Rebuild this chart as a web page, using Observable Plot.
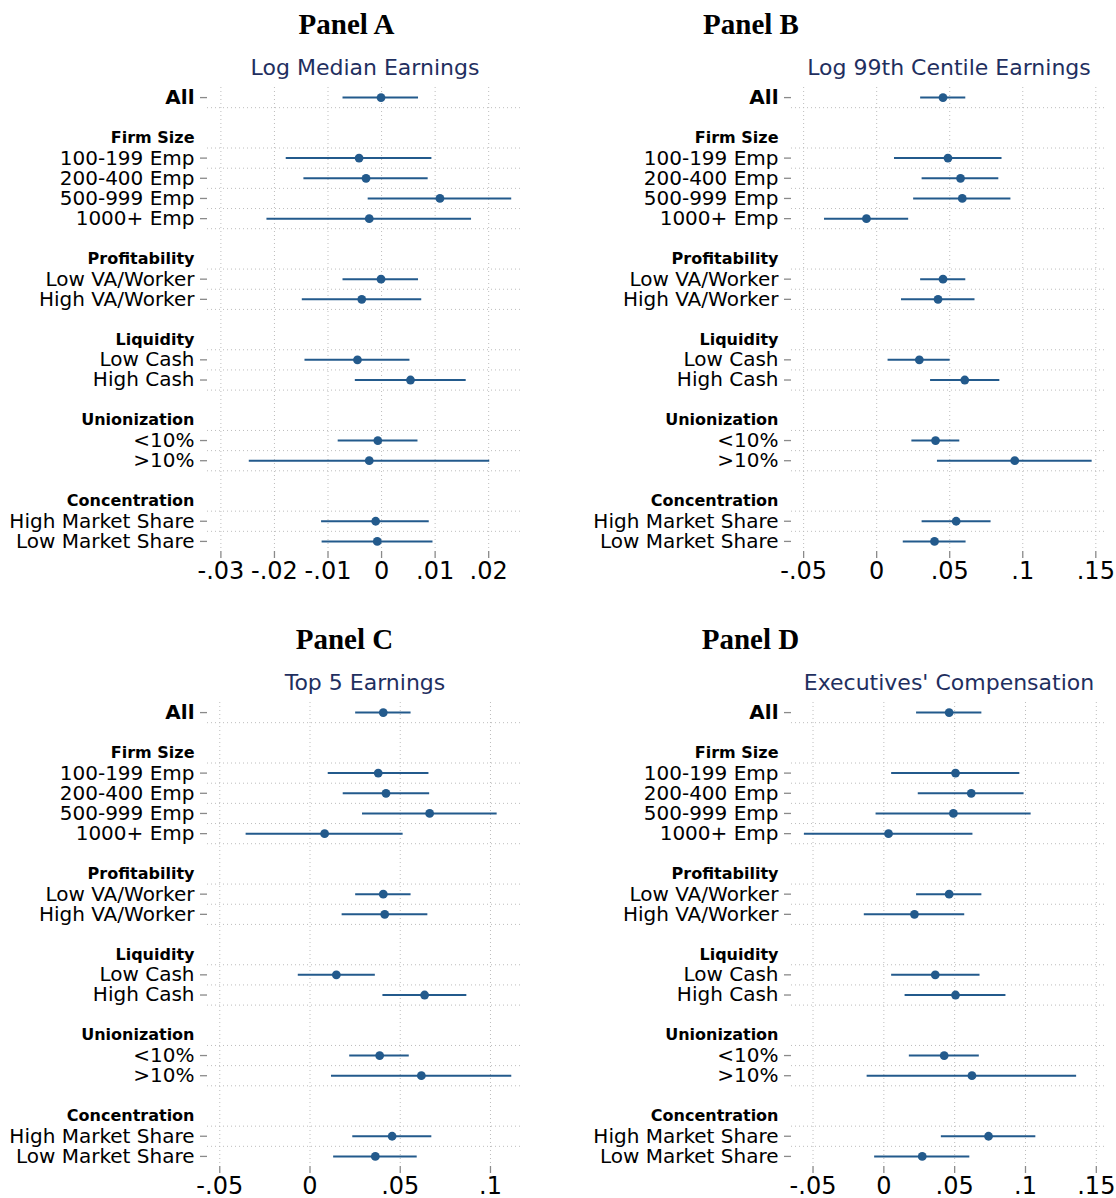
<!DOCTYPE html>
<html>
<head>
<meta charset="utf-8">
<script src="https://cdn.jsdelivr.net/npm/d3@7"></script>
<script src="https://cdn.jsdelivr.net/npm/@observablehq/plot@0.6"></script>
<style>
  html, body { margin: 0; padding: 0; background: #fff; overflow: hidden; }
  #root { position: relative; width: 1116px; height: 1198px; background: #fff; }
  .pnl { position: absolute; }
  .ptitle { position: absolute; width: 240px; text-align: center; font-family: "Palatino Linotype", "Book Antiqua", Palatino, "Liberation Serif", serif; font-weight: bold; font-size: 29px; line-height: 29px; color: #000; white-space: nowrap; }
  .psub { position: absolute; width: 420px; text-align: center; font-family: "DejaVu Sans", sans-serif; font-size: 22px; line-height: 22px; color: #1f2f5f; white-space: nowrap; }
</style>
</head>
<body>
<div id="root"></div>
<script>
// ---- categories ----
const categories = ["All", "100-199 Emp", "200-400 Emp", "500-999 Emp", "1000+ Emp",
  "Low VA/Worker", "High VA/Worker", "Low Cash", "High Cash", "<10%", ">10%",
  "High Market Share", "Low Market Share"];
const groups = ["", "Firm Size", "Firm Size", "Firm Size", "Firm Size",
  "Profitability", "Profitability", "Liquidity", "Liquidity", "Unionization", "Unionization",
  "Concentration", "Concentration"];

// ---- panel titles ----
const panelTitles = ["Panel A", "Panel B", "Panel C", "Panel D"];
const panelSubtitles = ["Log Median Earnings", "Log 99th Centile Earnings", "Top 5 Earnings", "Executives' Compensation"];

// ---- Panel A: Log Median Earnings ----
const estA = [-0.0001, -0.0042, -0.0029, 0.0109, -0.0023, -0.0001, -0.0037, -0.0045, 0.0054, -0.0007, -0.0023, -0.0011, -0.0008];
const loA  = [-0.0072, -0.0178, -0.0145, -0.0025, -0.0214, -0.0072, -0.0148, -0.0143, -0.0049, -0.0081, -0.0247, -0.0112, -0.0111];
const hiA  = [0.0069, 0.0094, 0.0087, 0.0243, 0.0168, 0.0069, 0.0075, 0.0053, 0.0158, 0.0068, 0.0202, 0.0089, 0.0096];
const ticksA = [-0.03, -0.02, -0.01, 0, 0.01, 0.02];
const domainA = [-0.0325, 0.0265];

// ---- Panel B: Log 99th Centile Earnings ----
const estB = [0.0454, 0.0488, 0.0574, 0.0586, -0.0070, 0.0454, 0.0420, 0.0292, 0.0603, 0.0403, 0.0945, 0.0544, 0.0396];
const loB  = [0.0301, 0.0122, 0.0311, 0.0253, -0.0357, 0.0301, 0.0170, 0.0078, 0.0369, 0.0241, 0.0416, 0.0311, 0.0182];
const hiB  = [0.0610, 0.0858, 0.0836, 0.0919, 0.0219, 0.0610, 0.0673, 0.0503, 0.0843, 0.0569, 0.1475, 0.0783, 0.0612];
const ticksB = [-0.05, 0, 0.05, 0.1, 0.15];
const domainB = [-0.0583, 0.158];

// ---- Panel C: Top 5 Earnings ----
const estC = [0.0406, 0.0378, 0.0421, 0.0663, 0.0081, 0.0406, 0.0414, 0.0146, 0.0635, 0.0386, 0.0617, 0.0455, 0.0362];
const loC  = [0.0253, 0.0101, 0.0184, 0.0291, -0.0354, 0.0253, 0.0178, -0.0065, 0.0404, 0.0220, 0.0119, 0.0237, 0.0131];
const hiC  = [0.0560, 0.0659, 0.0663, 0.1037, 0.0516, 0.0560, 0.0653, 0.0362, 0.0869, 0.0550, 0.1118, 0.0675, 0.0594];
const ticksC = [-0.05, 0, 0.05, 0.1];
const domainC = [-0.0568, 0.1183];

// ---- Panel D: Executives' Compensation ----
const estD = [0.0461, 0.0506, 0.0617, 0.0491, 0.0033, 0.0461, 0.0216, 0.0363, 0.0506, 0.0426, 0.0622, 0.0739, 0.0271];
const loD  = [0.0231, 0.0055, 0.0243, -0.0055, -0.0561, 0.0231, -0.0138, 0.0055, 0.0150, 0.0180, -0.0118, 0.0406, -0.0065];
const hiD  = [0.0692, 0.0960, 0.0990, 0.1040, 0.0629, 0.0692, 0.0571, 0.0679, 0.0862, 0.0674, 0.1361, 0.1073, 0.0607];
const ticksD = [-0.05, 0, 0.05, 0.1, 0.15];
const domainD = [-0.0652, 0.1579];

// ---- layout of rows (order-derived index) ----
const headers = [];
const rowPos = [];
{
  let idx = 0, prev = groups[0];
  categories.forEach((c, i) => {
    if (i > 0) {
      if (groups[i] !== prev) { idx += 2; headers.push({label: groups[i], pos: idx}); }
      idx += 1;
    }
    rowPos.push(idx);
    prev = groups[i];
  });
}
const maxPos = rowPos[rowPos.length - 1];
const gridYs = Array.from(new Set(rowPos.flatMap(p => [p - 0.5, p + 0.5])))
  .filter(v => v > -0.5 && v < maxPos + 0.5);

const fmt = v => v === 0 ? "0" : (v < 0 ? "-" : "") + String(Math.abs(v)).replace(/^0/, "");
const COL = "#235a8c";
const AX = "#8a8a8a";
const GRID = "#bdbdbd";

function makePanel(est, lo, hi, ticks, domain, opts) {
  const data = categories.map((c, i) => ({label: c, pos: rowPos[i], est: est[i], lo: lo[i], hi: hi[i]}));
  return Plot.plot({
    width: opts.width, height: opts.height,
    marginLeft: opts.ml, marginRight: opts.mr, marginTop: opts.mt, marginBottom: opts.mb,
    style: {fontFamily: "DejaVu Sans, sans-serif", background: "white", overflow: "visible"},
    x: {domain, label: null},
    y: {domain: [-0.5, maxPos + 0.5], reverse: true, label: null},
    marks: [
      Plot.gridX({ticks, stroke: GRID, strokeOpacity: 1, strokeWidth: 1, strokeDasharray: "1,3"}),
      Plot.ruleY(gridYs, {stroke: GRID, strokeWidth: 1, strokeDasharray: "1,3"}),
      Plot.axisX({ticks, tickFormat: fmt, tickSize: 7, tickPadding: 3, fontSize: 24, line: true,
        stroke: AX, strokeWidth: 1.3, fill: "black", label: null}),
      Plot.axisY({ticks: rowPos, tickFormat: () => "", tickSize: 7, line: true,
        stroke: AX, strokeWidth: 1.3, label: null}),
      Plot.ruleY(data, {y: "pos", x1: "lo", x2: "hi", stroke: COL, strokeWidth: 2}),
      Plot.dot(data, {x: "est", y: "pos", r: 4.4, fill: COL, stroke: null}),
      Plot.text(data.filter(d => d.label !== "All"), {y: "pos", text: "label", frameAnchor: "left", dx: -13,
        textAnchor: "end", fontSize: 20, fill: "black"}),
      Plot.text(data.filter(d => d.label === "All"), {y: "pos", text: "label", frameAnchor: "left", dx: -13,
        textAnchor: "end", fontSize: 20, fontWeight: "bold", fill: "black"}),
      Plot.text(headers, {y: "pos", text: "label", frameAnchor: "left", dx: -13,
        textAnchor: "end", fontSize: 16, fontWeight: "bold", fill: "black"})
    ]
  });
}

const root = document.getElementById("root");
const panels = [
  {est: estA, lo: loA, hi: hiA, ticks: ticksA, domain: domainA, left: 0, top: 0,
   o: {width: 558, height: 596, ml: 207, mr: 35, mt: 87, mb: 45}, titleX: 346.5, subX: 365, titleTop: 10, subTop: 57},
  {est: estB, lo: loB, hi: hiB, ticks: ticksB, domain: domainB, left: 558, top: 0,
   o: {width: 558, height: 596, ml: 233, mr: 9, mt: 87, mb: 45}, titleX: 751, subX: 949, titleTop: 10, subTop: 57},
  {est: estC, lo: loC, hi: hiC, ticks: ticksC, domain: domainC, left: 0, top: 615,
   o: {width: 558, height: 583, ml: 207, mr: 35, mt: 87, mb: 32}, titleX: 344.5, subX: 365, titleTop: 625, subTop: 672},
  {est: estD, lo: loD, hi: hiD, ticks: ticksD, domain: domainD, left: 558, top: 615,
   o: {width: 558, height: 583, ml: 233, mr: 9, mt: 87, mb: 32}, titleX: 750.5, subX: 949, titleTop: 625, subTop: 672}
];

panels.forEach((p, i) => {
  const wrap = document.createElement("div");
  wrap.className = "pnl";
  wrap.style.left = p.left + "px";
  wrap.style.top = p.top + "px";
  wrap.appendChild(makePanel(p.est, p.lo, p.hi, p.ticks, p.domain, p.o));
  root.appendChild(wrap);

  const t = document.createElement("div");
  t.className = "ptitle";
  t.textContent = panelTitles[i];
  t.style.left = (p.titleX - 120) + "px";
  t.style.top = p.titleTop + "px";
  root.appendChild(t);

  const s = document.createElement("div");
  s.className = "psub";
  s.textContent = panelSubtitles[i];
  s.style.left = (p.subX - 210) + "px";
  s.style.top = p.subTop + "px";
  root.appendChild(s);
});
</script>
</body>
</html>
